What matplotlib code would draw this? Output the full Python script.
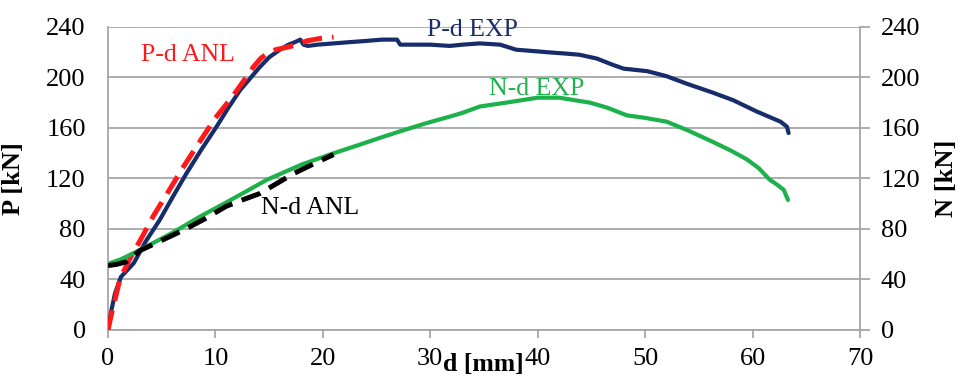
import matplotlib
matplotlib.use("Agg")
import matplotlib.pyplot as plt

plt.rcParams['font.family'] = ['Liberation Serif', 'DejaVu Serif']

# P-d experimental (navy)
pexp_d = [0, 0.3, 0.65, 1.2, 2.4, 3.5, 4.8, 6, 7.3, 8.7, 10.1, 11.2, 12.3, 13.2, 14.1, 15, 16, 16.8, 17.4, 17.9,
          18.2, 18.6, 19.5, 21, 22.5, 24.1, 25.5, 26.9, 27.2, 28.5, 30, 31.8, 33, 34.6, 36.5, 38, 39.5, 40.9,
          42.5, 43.9, 45.5, 47, 48, 50.2, 52, 53.9, 56.3, 58.2, 60.4, 61.5, 62.6, 63.2, 63.35]
pexp_p = [0, 15, 29, 42, 53, 70, 87, 105, 124, 143, 161, 176, 190, 199, 208, 216, 222, 226, 228, 230,
          226, 225, 226, 227, 228, 229, 230, 230, 226, 226, 226, 225, 226, 227, 226, 222, 221, 220,
          219, 218, 215, 210, 207, 205, 201, 195, 188, 182, 173, 169, 165, 161, 156]

# P-d analytical (red dashed)
panl_d = [0, 0.3, 0.65, 1.1, 2, 3, 4.2, 5.5, 7, 8.6, 10, 11.6, 12.6, 13.5, 14.2, 14.8, 15.6, 16.7, 17.6, 18.5, 19.8, 21]
panl_p = [0, 12, 24, 40, 56, 71, 90, 108, 129, 150, 168, 185, 197, 208, 215, 219, 222, 224, 226, 229, 231, 232]

# N-d experimental (green)
nexp_d = [0.2, 1.2, 2.4, 4, 6, 8.6, 11, 14.8, 18, 21, 23.5, 25.6, 27.8, 29.7, 31.8, 33, 34.6, 37, 40, 42,
          44.9, 46.5, 48.3, 50, 52, 54, 56.3, 58, 59.5, 60.6, 61.6, 62.3, 62.9, 63.3]
nexp_n = [53, 56, 61, 68, 77, 90, 101, 119, 131, 140, 147, 153, 159, 164, 169, 172, 177, 180, 184, 184,
          180, 176, 170, 168, 165, 158, 149, 142, 135, 128, 119, 115, 111, 103]

# N-d analytical (black dashed)
nanl_d = [0, 0.8, 1.7, 3, 5, 7, 9, 11, 12.5, 14.1, 15.7, 17.3, 19, 21]
nanl_n = [51, 52, 54, 63, 71, 79, 88, 98, 103, 108, 116, 124, 131, 139]

xticks = [0, 10, 20, 30, 40, 50, 60, 70]
yticks = [0, 40, 80, 120, 160, 200, 240]

fig = plt.figure(figsize=(9.61, 3.79), dpi=100)
ax = fig.add_axes([0.1124, 0.1293, 0.7825, 0.7995])
ax2 = ax.twinx()

grid_col = '#a6a6a6'
fs = 19
ax.set_xlim(0, 70)
ax.set_ylim(0, 240)
ax2.set_ylim(0, 240)
ax.set_xticks(xticks)
ax.set_yticks(yticks)
ax2.set_yticks(yticks)
ax.yaxis.grid(True, color=grid_col, lw=1.3)
ax.set_axisbelow(True)

for a in (ax, ax2):
    for s in a.spines.values():
        s.set_visible(False)
ax.spines['left'].set_visible(True)
ax.spines['bottom'].set_visible(True)
ax2.spines['right'].set_visible(True)
for s in (ax.spines['left'], ax.spines['bottom'], ax2.spines['right']):
    s.set_color(grid_col)
    s.set_linewidth(1.3)

ax.tick_params(axis='x', direction='out', length=6, width=1.3, color=grid_col, labelsize=fs, pad=7)
ax.tick_params(axis='y', direction='out', length=0, labelsize=fs, pad=16)
ax2.tick_params(axis='y', direction='out', length=7, width=1.3, color=grid_col, labelsize=fs, pad=8)

ax.plot(pexp_d, pexp_p, color='#172d6b', lw=3, solid_capstyle='round', zorder=3)
ax.plot(panl_d, panl_p, color='#ff1a1a', lw=3.6, dashes=(4, 2), zorder=4)
ax2.plot(nexp_d, nexp_n, color='#1db14b', lw=3, solid_capstyle='round', zorder=3)
ax2.plot(nanl_d, nanl_n, color='black', lw=3.6, dashes=(4, 2), zorder=4)

ann = 18.5
ax.text(3.1, 218, 'P-d ANL', color='#ff1a1a', fontsize=ann, va='center')
ax.text(29.7, 238, 'P-d EXP', color='#172d6b', fontsize=ann, va='center')
ax.text(35.5, 191, 'N-d EXP', color='#1db14b', fontsize=ann, va='center')
ax.text(14.2, 97, 'N-d ANL', color='black', fontsize=ann, va='center')

ax.set_ylabel('P [kN]', fontsize=fs, fontweight='bold')
ax.yaxis.set_label_coords(-0.11, 0.5)
ax2.set_ylabel('N [kN]', fontsize=fs, fontweight='bold', rotation=90)
ax2.yaxis.set_label_coords(1.1, 0.5)
ax.set_xlabel('d [mm]', fontsize=18.5, fontweight='bold')
ax.xaxis.set_label_coords(0.499, -0.075)

fig.savefig('out.png', dpi=100)
